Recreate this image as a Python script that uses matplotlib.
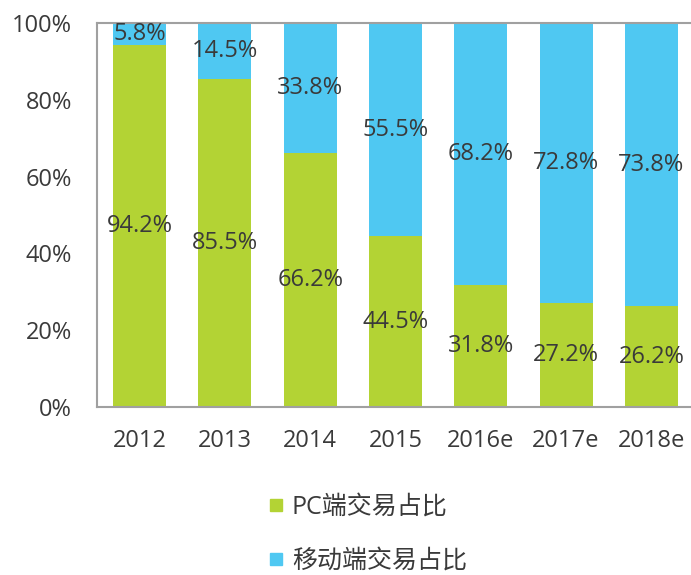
import numpy as np
import matplotlib
matplotlib.use("Agg")
import matplotlib.pyplot as plt
from matplotlib.lines import Line2D

plt.rcParams['font.family'] = ['Open Sans', 'Noto Sans CJK SC', 'DejaVu Sans']

years = ['2012', '2013', '2014', '2015', '2016e', '2017e', '2018e']
pc_share = [94.2, 85.5, 66.2, 44.5, 31.8, 27.2, 26.2]
mobile_share = [5.8, 14.5, 33.8, 55.5, 68.2, 72.8, 73.8]
series_names = ['PC端交易占比', '移动端交易占比']

green = '#b3d334'
blue = '#4fc8f2'
txt = '#3a3a3a'

fig = plt.figure(figsize=(6.91, 5.75), dpi=100)
# axes runs slightly past the right edge, as in the original
ax = fig.add_axes([97 / 691, 1 - 407 / 575, 597 / 691, 384 / 575])

x = np.arange(len(years))
w = 0.62
ax.bar(x, pc_share, width=w, color=green, zorder=2)
ax.bar(x, mobile_share, width=w, bottom=pc_share, color=blue, zorder=2)

for i in range(len(years)):
    ax.text(x[i], pc_share[i] / 2, f'{pc_share[i]}%', ha='center', va='center',
            fontsize=17, color=txt, zorder=3)
    ax.text(x[i], pc_share[i] + mobile_share[i] / 2, f'{mobile_share[i]}%',
            ha='center', va='center', fontsize=17, color=txt, zorder=3)

ax.set_xlim(-0.5, 6.5)
ax.set_ylim(0, 100)
ax.set_yticks(range(0, 101, 20))
ax.set_yticklabels([f'{v}%' for v in range(0, 101, 20)])
ax.set_xticks(x)
ax.set_xticklabels(years)
ax.tick_params(axis='both', length=0, labelsize=17, colors=txt)
ax.tick_params(axis='y', pad=18)
ax.tick_params(axis='x', pad=16)

for s in ['left', 'top', 'bottom']:
    ax.spines[s].set_color('#a0a0a0')
    ax.spines[s].set_linewidth(1.5)
ax.spines['right'].set_visible(False)

handles = [Line2D([], [], marker='s', linestyle='none', markersize=9,
                  markerfacecolor=green, markeredgecolor=green),
           Line2D([], [], marker='s', linestyle='none', markersize=9,
                  markerfacecolor=blue, markeredgecolor=blue)]
fig.legend(handles, series_names, loc='upper left',
           bbox_to_anchor=(258 / 691, 1 - 490 / 575), frameon=False,
           fontsize=18, labelcolor=txt, handletextpad=0.15,
           labelspacing=1.15, handlelength=1.0, borderaxespad=0,
           borderpad=0.2)

fig.savefig('out.png', dpi=100)
